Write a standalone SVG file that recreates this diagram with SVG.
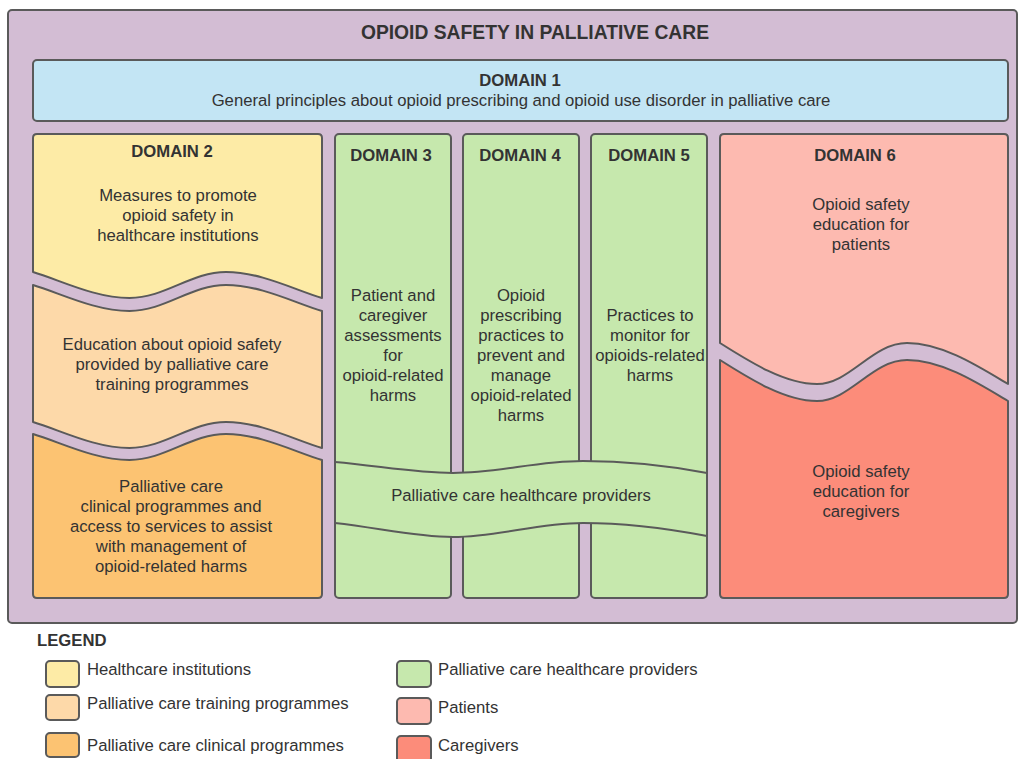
<svg xmlns="http://www.w3.org/2000/svg" width="1019" height="759" viewBox="0 0 1019 759">
  <style>
    text { font-family: "Liberation Sans", Arial, sans-serif; fill: #333333; font-size: 16.7px; }
    .c { text-anchor: middle; }
    .b { font-weight: bold; }
    .title { font-size: 19.3px; font-weight: bold; text-anchor: middle; }
    .box { stroke: #5a5a5a; stroke-width: 2; stroke-linejoin: round; }
    .edge { fill: none; stroke: #5a5a5a; stroke-width: 2; }
    .inst { fill: #fdeba6; }
    .train { fill: #fdd9a9; }
    .clin { fill: #fcc372; }
    .prov { fill: #c6e8ad; }
    .pat { fill: #fdbab0; }
    .care { fill: #fc8c7a; }
  </style>

  <!-- outer frame -->
  <g id="frame">
    <rect class="box" x="8" y="10" width="1009" height="613" rx="4" fill="#d3bdd4"/>
    <text class="title" x="535" y="39">OPIOID SAFETY IN PALLIATIVE CARE</text>
  </g>

  <!-- domain 1 banner -->
  <g id="domain1">
    <rect class="box" x="33" y="60" width="975" height="61" rx="4" fill="#c3e5f4"/>
    <text class="c b" x="520" y="86">DOMAIN 1</text>
    <text class="c" x="521" y="106">General principles about opioid prescribing and opioid use disorder in palliative care</text>
  </g>

  <!-- domain 2: three stacked wave panels -->
  <g id="domain2">
    <path class="box inst" d="M33,272 V138 Q33,134 37,134 H318 Q322,134 322,138 V298 C295,290 261,272 226,272 C191,272 165,298 129.5,298 C95,298 60,280 33,272 Z"/>
    <path class="box train" d="M33,285 C60,293 95,311 129.5,311 C165,311 191,285 226,285 C261,285 295,303 322,311 V448 C295,440 261,422 226,422 C191,422 165,448 129.5,448 C95,448 60,430 33,422 Z"/>
    <path class="box clin" d="M33,434 C60,442 95,460 129.5,460 C165,460 191,434 226,434 C261,434 295,452 322,460 V594 Q322,598 318,598 H37 Q33,598 33,594 Z"/>
    <text class="c b" x="172" y="157">DOMAIN 2</text>
    <text class="c" x="178" y="201">Measures to promote</text>
    <text class="c" x="178" y="221">opioid safety in</text>
    <text class="c" x="178" y="241">healthcare institutions</text>
    <text class="c" x="172" y="350">Education about opioid safety</text>
    <text class="c" x="172" y="370">provided by palliative care</text>
    <text class="c" x="172" y="390">training programmes</text>
    <text class="c" x="171" y="492">Palliative care</text>
    <text class="c" x="171" y="512">clinical programmes and</text>
    <text class="c" x="171" y="532">access to services to assist</text>
    <text class="c" x="171" y="552">with management of</text>
    <text class="c" x="171" y="572">opioid-related harms</text>
  </g>

  <g id="domain3">
    <rect class="box prov" x="335" y="134" width="116" height="464" rx="4"/>
    <text class="c b" x="391" y="161">DOMAIN 3</text>
    <text class="c" x="393" y="301">Patient and</text>
    <text class="c" x="393" y="321">caregiver</text>
    <text class="c" x="393" y="341">assessments</text>
    <text class="c" x="393" y="361">for</text>
    <text class="c" x="393" y="381">opioid-related</text>
    <text class="c" x="393" y="401">harms</text>
  </g>

  <g id="domain4">
    <rect class="box prov" x="463" y="134" width="116" height="464" rx="4"/>
    <text class="c b" x="520" y="161">DOMAIN 4</text>
    <text class="c" x="521" y="301">Opioid</text>
    <text class="c" x="521" y="321">prescribing</text>
    <text class="c" x="521" y="341">practices to</text>
    <text class="c" x="521" y="361">prevent and</text>
    <text class="c" x="521" y="381">manage</text>
    <text class="c" x="521" y="401">opioid-related</text>
    <text class="c" x="521" y="421">harms</text>
  </g>

  <g id="domain5">
    <rect class="box prov" x="591" y="134" width="116" height="464" rx="4"/>
    <text class="c b" x="649" y="161">DOMAIN 5</text>
    <text class="c" x="650" y="321">Practices to</text>
    <text class="c" x="650" y="341">monitor for</text>
    <text class="c" x="650" y="361">opioids-related</text>
    <text class="c" x="650" y="381">harms</text>
  </g>

  <!-- provider band across domains 3-5 -->
  <g id="providers">
    <path class="prov" d="M335,462 C380,466 415,473 453,473 C500,473 535,461 583,461 C630,461 670,466 707,473 L707,536 C670,529 630,523 583,523 C535,523 500,537 453,537 C415,537 380,528 335,523 Z"/>
    <path class="edge" d="M335,462 C380,466 415,473 453,473 C500,473 535,461 583,461 C630,461 670,466 707,473"/>
    <path class="edge" d="M335,523 C380,528 415,537 453,537 C500,537 535,523 583,523 C630,523 670,529 707,536"/>
    <path class="edge" d="M335,461 V524 M707,472 V537"/>
    <text class="c" x="521" y="501">Palliative care healthcare providers</text>
  </g>

  <!-- domain 6: patients / caregivers -->
  <g id="domain6">
    <path class="box pat" d="M720,343 V138 Q720,134 724,134 H1004 Q1008,134 1008,138 V384 C978,366 942,343 907,343 C872,343 850,384 817,384 C785,384 750,362 720,343 Z"/>
    <path class="box care" d="M720,360 C750,379 785,401 817,401 C850,401 872,360 907,360 C942,360 978,383 1008,401 V594 Q1008,598 1004,598 H724 Q720,598 720,594 Z"/>
    <text class="c b" x="855" y="161">DOMAIN 6</text>
    <text class="c" x="861" y="210">Opioid safety</text>
    <text class="c" x="861" y="230">education for</text>
    <text class="c" x="861" y="250">patients</text>
    <text class="c" x="861" y="477">Opioid safety</text>
    <text class="c" x="861" y="497">education for</text>
    <text class="c" x="861" y="517">caregivers</text>
  </g>

  <!-- legend -->
  <g id="legend">
    <text class="b" x="37" y="646">LEGEND</text>
    <rect class="box inst" x="46" y="661" width="33" height="26" rx="4"/>
    <text x="87" y="675">Healthcare institutions</text>
    <rect class="box train" x="46" y="695" width="33" height="25" rx="4"/>
    <text x="87" y="709">Palliative care training programmes</text>
    <rect class="box clin" x="46" y="733" width="33" height="24" rx="4"/>
    <text x="87" y="751">Palliative care clinical programmes</text>
    <rect class="box prov" x="397" y="661" width="34" height="26" rx="4"/>
    <text x="438" y="675">Palliative care healthcare providers</text>
    <rect class="box pat" x="397" y="698" width="34" height="26" rx="4"/>
    <text x="438" y="713">Patients</text>
    <rect class="box care" x="397" y="736" width="34" height="26" rx="4"/>
    <text x="438" y="751">Caregivers</text>
  </g>
</svg>
